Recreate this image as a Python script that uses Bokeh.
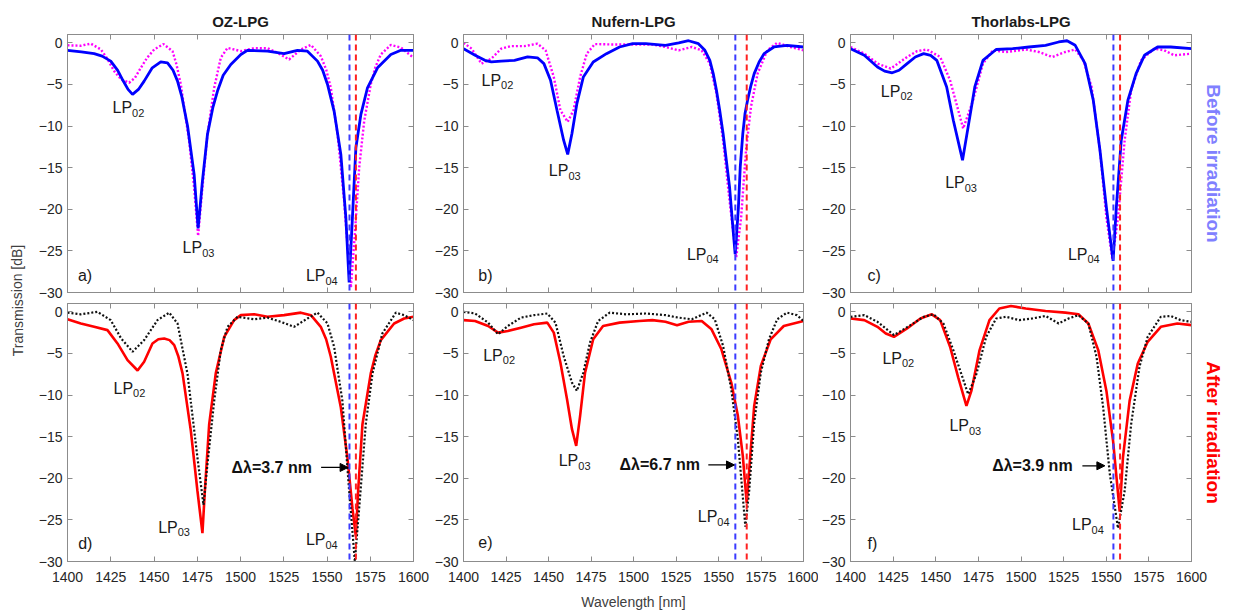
from bokeh.plotting import figure
from bokeh.layouts import row, column
from bokeh.models import LinearAxis, FixedTicker, Span, Arrow, NormalHead, Range1d
from bokeh.core.properties import value
from bokeh.embed import file_html
from bokeh.resources import INLINE

FONT = "Liberation Sans"
FRAME = "#8c8c8c"
TICKTXT = "#262626"

# ---------------- data ----------------
x_ticks = [1400, 1425, 1450, 1475, 1500, 1525, 1550, 1575, 1600]
y_ticks = [-30, -25, -20, -15, -10, -5, 0]
titles = ["OZ-LPG", "Nufern-LPG", "Thorlabs-LPG"]
panel_tags = [["a)", "b)", "c)"], ["d)", "e)", "f)"]]
shift_texts = ["\u0394\u03bb=3.7 nm", "\u0394\u03bb=6.7 nm", "\u0394\u03bb=3.9 nm"]
dip_before = [1563.0, 1559.9, 1554.2]   # blue dashed markers
dip_after = [1566.7, 1566.6, 1558.1]    # red dashed markers

# panel a : OZ-LPG before irradiation
a_solid_x = [1400, 1408.0, 1415.4, 1420.0, 1425.0, 1429.0, 1432.0, 1435.0, 1437.6, 1441.0, 1444.3, 1449.0,
             1453.9, 1457.8, 1461.0, 1463.6, 1466.0, 1469.4, 1473.2, 1475.5,
             1478.0, 1480.9, 1484.0, 1486.7, 1490.0, 1494.4, 1500.2, 1504.0, 1515.6, 1525.2, 1532.9, 1538.7,
             1544.5, 1547.5, 1550.3, 1554.1, 1558.0, 1560.9, 1562.8, 1564.7, 1566.7, 1569.6, 1573.4, 1579.2,
             1586.9, 1592.7, 1600]
a_solid_y = [-0.9, -1.1, -1.3, -1.6, -2.2, -3.3, -4.5, -5.6, -6.2, -5.6, -4.6, -3.0,
             -2.3, -2.4, -3.3, -4.6, -6.4, -10.0, -15.8, -22.3,
             -16.6, -11.0, -7.8, -5.8, -3.9, -2.6, -1.4, -0.9, -1.0, -1.3, -0.9, -1.0,
             -2.2, -3.3, -5.0, -8.2, -13.4, -21.0, -28.8, -21.0, -12.6, -8.6, -5.4, -3.0,
             -1.4, -0.9, -0.9]
a_dot_x = [1400, 1407.7, 1413.5, 1419.3, 1423.0, 1427.0, 1431.0, 1435.6, 1439.0, 1442.4, 1446.0, 1450.1,
           1455.5, 1460.7, 1463.0, 1465.5, 1470.3,
           1473.2, 1475.5, 1478.0, 1480.9, 1484.8, 1488.6, 1492.5, 1500.2, 1507.9, 1515.6, 1521.4, 1528.1,
           1534.9, 1540.7, 1546.4, 1549.5, 1552.2, 1556.1, 1559.9, 1562.8, 1563.8, 1566.1, 1568.6, 1571.5,
           1575.3, 1578.0, 1581.1, 1586.9, 1592.7, 1600]
a_dot_y = [-0.3, -0.35, -0.1, -0.8, -1.9, -3.4, -4.4, -4.8, -4.2, -3.0, -1.8, -0.8,
           -0.15, -1.0, -2.6, -5.0, -11.8,
           -17.4, -23.2, -17.4, -11.0, -5.4, -1.8, -0.6, -1.0, -0.64, -0.65, -1.2, -2.0,
           -0.8, -0.25, -1.6, -3.2, -5.4, -11.0, -19.0, -27.0, -29.4, -23.0, -15.0, -9.4,
           -5.0, -2.9, -1.4, -0.25, -0.56, -1.8]

# panel d : OZ-LPG after irradiation
d_solid_x = [1400, 1407.7, 1415.4, 1423.1, 1428.9, 1434.7, 1440.5, 1444.3, 1449.1, 1452.5, 1455.9, 1459.0,
             1461.7, 1464.0, 1466.5, 1471.3, 1475.1, 1478.0, 1479.4, 1481.9, 1485.7, 1490.6, 1496.3, 1500.2,
             1507.9, 1515.6, 1525.2, 1534.9, 1540.7, 1546.4, 1549.5, 1552.2, 1558.0, 1561.8, 1564.7, 1566.7,
             1568.0, 1570.5, 1575.3, 1578.0, 1581.1, 1588.8, 1594.6, 1600]
d_solid_y = [-0.9, -1.4, -1.8, -2.2, -3.8, -5.8, -7.05, -6.0, -3.8, -3.3, -3.2, -3.4,
             -4.0, -5.3, -7.4, -14.3, -21.5, -26.6, -21.5, -13.5, -7.4, -3.0, -1.0, -0.4,
             -0.3, -0.6, -0.4, -0.1, -0.4, -1.8, -3.3, -5.4, -11.5, -17.5, -23.6, -27.0,
             -21.5, -13.5, -7.4, -5.2, -3.4, -1.4, -0.8, -0.6]
d_dot_x = [1400, 1407.7, 1417.3, 1425.0, 1431.0, 1437.6, 1444.3, 1452.0, 1458.8, 1463.6, 1469.4, 1475.1,
           1478.6, 1480.9, 1484.8, 1488.6, 1492.5, 1498.3, 1507.9, 1515.6, 1523.3, 1531.0, 1538.7, 1544.5,
           1550.3, 1554.1, 1558.9, 1562.8, 1566.1, 1568.6, 1572.4, 1576.3, 1582.0, 1589.8, 1594.6, 1600]
d_dot_y = [-0.1, -0.3, 0.0, -1.0, -3.2, -4.8, -3.4, -1.0, -0.1, -1.4, -7.5, -17.5,
           -23.2, -18.3, -10.7, -4.6, -1.8, -0.6, -0.9, -0.7, -1.2, -1.8, -0.8, -0.1,
           -1.4, -4.2, -10.7, -21.5, -30.0, -23.6, -13.5, -7.4, -2.6, -0.1, -0.4, -1.0]

# panel b : Nufern-LPG before irradiation
b_solid_x = [1400, 1406.8, 1412.6, 1416.4, 1422.2, 1430.0, 1437.7, 1443.5, 1447.3, 1451.2, 1455.0, 1458.9,
             1461.3, 1463.8, 1466.7, 1470.5, 1476.3, 1484.1, 1491.8, 1499.5, 1507.2, 1518.8, 1526.6, 1532.4,
             1538.2, 1542.0, 1544.9, 1546.9, 1548.8, 1550.7, 1552.7, 1554.6, 1556.5, 1557.5, 1558.8, 1559.8,
             1560.4, 1561.7, 1562.8, 1564.3, 1565.6, 1567.1, 1569.1, 1571.0, 1573.9, 1576.8,
             1582.6, 1590.3, 1600]
b_solid_y = [-0.7, -1.5, -2.1, -2.3, -2.2, -2.1, -1.7, -1.8, -2.5, -4.5, -8.1, -11.7,
             -13.4, -10.9, -7.3, -4.1, -2.3, -1.3, -0.5, -0.1, -0.1, -0.3, 0.0, 0.25,
             -0.1, -0.9, -2.1, -3.7, -5.7, -8.1, -10.9, -14.1, -17.3, -19.8, -23.0, -25.4,
             -23.8, -19.8, -14.9, -10.9, -8.5, -6.9, -5.1, -3.7, -2.3, -1.3,
             -0.5, -0.3, -0.5]
b_dot_x = [1400, 1404.8, 1410.6, 1416.4, 1422.2, 1428.0, 1435.7, 1443.5, 1448.3, 1453.1, 1457.0, 1461.3,
           1464.7, 1468.6, 1472.5, 1477.3, 1487.9, 1499.5, 1511.1, 1518.8, 1526.6, 1534.3, 1540.1, 1544.9,
           1548.8, 1552.7, 1556.5, 1560.4, 1563.3, 1566.2, 1569.1, 1573.0, 1578.7, 1584.5, 1592.3, 1600]
b_dot_y = [0.0, -0.7, -2.5, -1.9, -0.7, -0.4, -0.4, -0.1, -0.9, -4.1, -8.1, -9.5,
           -8.1, -4.1, -1.3, -0.15, -0.2, -0.2, -0.2, -0.5, -0.9, -0.5, -0.9, -2.5,
           -6.1, -11.7, -19.0, -25.8, -21.0, -12.9, -7.7, -3.7, -0.9, 0.0, -0.5, -0.9]

# panel e : Nufern-LPG after irradiation
e_solid_x = [1400, 1406.8, 1414.5, 1420.3, 1426.1, 1433.8, 1441.5, 1449.3, 1453.1, 1457.0, 1460.9, 1463.8,
             1466.3, 1468.6, 1471.5, 1476.3, 1482.1, 1491.8, 1503.4, 1511.1, 1518.8, 1525.6, 1532.4, 1540.1,
             1545.9, 1551.7, 1557.5, 1561.4, 1564.3, 1566.6, 1568.7, 1571.0, 1574.9, 1580.7, 1588.4, 1600]
e_solid_y = [-1.0, -1.1, -1.7, -2.5, -2.3, -1.9, -1.5, -1.3, -2.5, -6.1, -10.5, -14.1,
             -16.1, -12.5, -7.3, -3.3, -1.7, -1.3, -1.1, -1.0, -1.2, -1.6, -1.2, -1.1,
             -2.1, -4.5, -8.5, -12.5, -17.3, -23.0, -17.3, -11.3, -6.5, -3.3, -1.7, -1.1]
e_dot_x = [1400, 1406.8, 1414.5, 1420.3, 1426.1, 1433.8, 1441.5, 1449.3, 1454.1, 1458.9, 1463.8, 1466.7,
           1470.5, 1474.4, 1479.2, 1486.0, 1495.7, 1507.2, 1518.8, 1526.6, 1534.3, 1543.0, 1547.8, 1552.7,
           1557.5, 1561.4, 1565.8, 1568.1, 1571.0, 1574.9, 1579.7, 1584.5, 1590.3, 1596.1, 1600]
e_dot_y = [0.0, -0.2, -1.3, -2.7, -1.7, -0.7, -0.4, -0.2, -1.3, -5.3, -8.5, -9.5,
           -7.3, -3.7, -1.1, -0.1, -0.3, -0.2, -0.4, -0.7, -0.9, -0.1, -0.9, -4.1,
           -9.3, -15.3, -25.8, -21.4, -13.3, -7.3, -3.3, -0.9, -0.1, -0.4, -1.1]

# panel c : Thorlabs-LPG before irradiation
c_solid_x = [1400, 1408.1, 1415.8, 1420.0, 1424.5, 1428.5, 1433.2, 1438.0, 1442.9, 1447.0, 1450.6, 1456.4,
             1460.3, 1465.7, 1469.0, 1472.9, 1477.7, 1485.4, 1495.1, 1504.7, 1514.4, 1522.1, 1527.0, 1531.8,
             1537.6, 1542.4, 1546.3, 1550.1, 1554.0, 1555.9, 1558.8, 1562.7, 1567.5, 1572.4, 1580.1, 1587.8,
             1600]
c_solid_y = [-0.7, -1.5, -2.9, -3.4, -3.6, -3.3, -2.5, -1.7, -1.3, -1.5, -2.1, -5.3,
             -9.3, -14.1, -10.1, -5.3, -2.1, -0.8, -0.7, -0.5, -0.3, 0.1, 0.25, -0.3,
             -2.5, -6.9, -12.9, -19.8, -26.2, -19.8, -11.7, -6.9, -3.7, -1.5, -0.5, -0.5,
             -0.7]
c_dot_x = [1400, 1408.1, 1416.0, 1423.6, 1433.2, 1439.0, 1444.8, 1452.6, 1458.4, 1466.1, 1471.9, 1477.7,
           1483.5, 1491.2, 1502.8, 1510.5, 1518.3, 1526.0, 1531.8, 1536.6, 1541.4, 1546.3, 1550.1, 1553.6,
           1556.9, 1560.8, 1564.6, 1570.4, 1578.2, 1584.0, 1589.8, 1600]
c_dot_y = [-0.5, -1.3, -2.5, -3.1, -1.7, -1.0, -0.8, -1.7, -4.5, -10.3, -6.9, -2.5,
           -0.9, -1.1, -0.8, -1.1, -1.7, -1.1, -0.8, -2.1, -5.3, -12.9, -21.0, -26.0,
           -21.0, -11.7, -5.7, -2.1, -0.7, -0.9, -1.5, -1.3]

# panel f : Thorlabs-LPG after irradiation
f_solid_x = [1400, 1408.1, 1415.8, 1420.7, 1425.5, 1433.2, 1441.0, 1447.7, 1452.6, 1458.4, 1463.2, 1468.0,
             1470.9, 1475.7, 1481.5, 1487.3, 1494.1, 1502.8, 1514.4, 1526.0, 1533.7, 1539.5, 1545.3, 1550.1,
             1554.0, 1557.9, 1559.8, 1563.7, 1568.5, 1574.3, 1582.0, 1591.7, 1600]
f_solid_y = [-0.8, -1.0, -1.8, -2.6, -3.0, -2.0, -0.8, -0.3, -1.0, -4.2, -7.9, -11.3,
             -9.5, -4.6, -1.0, 0.4, 0.7, 0.4, 0.1, -0.1, -0.3, -1.4, -4.6, -9.5,
             -15.5, -24.0, -17.5, -10.7, -6.2, -3.6, -1.8, -1.4, -1.6]
f_dot_x = [1400, 1408.1, 1415.8, 1425.5, 1435.2, 1442.9, 1448.7, 1454.5, 1460.3, 1469.0, 1473.8, 1479.6,
           1485.4, 1491.2, 1498.9, 1506.7, 1514.4, 1522.1, 1527.9, 1533.7, 1539.5, 1544.3, 1548.2, 1552.1,
           1556.9, 1560.8, 1564.6, 1569.5, 1574.3, 1582.0, 1587.8, 1593.6, 1600]
f_dot_y = [-0.6, -0.4, -1.2, -2.8, -1.6, -0.6, -0.3, -1.4, -4.6, -9.9, -7.5, -3.0,
           -0.8, -0.6, -1.0, -0.8, -0.5, -1.4, -0.8, -0.4, -1.4, -5.4, -11.5, -19.5,
           -26.0, -21.5, -13.5, -6.6, -3.0, -0.6, -0.5, -1.0, -1.2]

# ---------------- annotation placement ----------------
lp_names = ["02", "03", "04"]
lp_pos = {
    (0, 0): [(1426.0, -7.8), (1466.5, -24.6), (1537.8, -28.0)],
    (0, 1): [(1410.6, -4.5), (1450.2, -15.4), (1531.4, -25.4)],
    (0, 2): [(1417.8, -5.8), (1455.5, -16.8), (1527.5, -25.4)],
    (1, 0): [(1426.6, -9.2), (1452.4, -25.9), (1537.8, -27.4)],
    (1, 1): [(1411.6, -5.2), (1456.0, -17.9), (1537.8, -24.6)],
    (1, 2): [(1418.7, -5.6), (1458.0, -13.7), (1529.9, -25.6)],
}
tag_pos = [[(1406.0, -27.9), (1408.7, -27.9), (1410.0, -27.9)],
           [(1406.2, -27.8), (1408.7, -27.7), (1410.0, -27.8)]]
shift_pos = [(1494.8, -18.7, 1546.6, 1562.2),
             (1491.8, -18.4, 1544.0, 1559.4),
             (1483.1, -18.5, 1536.0, 1549.2)]

curves = {
    (0, 0): (a_solid_x, a_solid_y, a_dot_x, a_dot_y),
    (0, 1): (b_solid_x, b_solid_y, b_dot_x, b_dot_y),
    (0, 2): (c_solid_x, c_solid_y, c_dot_x, c_dot_y),
    (1, 0): (d_solid_x, d_solid_y, d_dot_x, d_dot_y),
    (1, 1): (e_solid_x, e_solid_y, e_dot_x, e_dot_y),
    (1, 2): (f_solid_x, f_solid_y, f_dot_x, f_dot_y),
}

# layout (page has no margin: origin at top-left of the window)
FRAME_W = [346, 345, 345]
left_b = [37, 27, 28]
right_b = [18, 15, 41]
FRAME_H = 258
top_b = [34, 1]
bot_b = [10, 53]
LEFT_STRIP = 30


def style_axis(ax, labels_on):
    ax.axis_line_color = FRAME
    ax.major_tick_line_color = FRAME
    ax.minor_tick_line_color = None
    ax.major_tick_in = 5
    ax.major_tick_out = 0
    ax.major_label_text_font = FONT
    ax.major_label_text_font_size = "14px"
    if labels_on:
        ax.major_label_text_color = TICKTXT
    else:
        ax.major_label_text_color = None
        ax.major_label_standoff = 0


def make_panel(r, c):
    p = figure(width=left_b[c] + FRAME_W[c] + right_b[c], height=top_b[r] + FRAME_H + bot_b[r],
               output_backend="svg", toolbar_location=None,
               x_range=Range1d(1400, 1600), y_range=Range1d(-30, 1),
               min_border_left=left_b[c], min_border_right=right_b[c],
               min_border_top=top_b[r], min_border_bottom=bot_b[r],
               x_axis_location=None, y_axis_location=None)
    p.background_fill_color = "white"
    p.border_fill_color = "white"
    p.outline_line_color = FRAME
    p.xgrid.visible = False
    p.ygrid.visible = False

    bx = LinearAxis(ticker=FixedTicker(ticks=x_ticks))
    style_axis(bx, r == 1)
    if r == 1:
        bx.major_label_standoff = 10
    if r == 1 and c == 1:
        bx.axis_label = "Wavelength [nm]"
        bx.axis_label_text_font = FONT
        bx.axis_label_text_font_style = "normal"
        bx.axis_label_text_font_size = "14px"
        bx.axis_label_text_color = "#404040"
        bx.axis_label_standoff = 9
    p.add_layout(bx, "below")

    ly = LinearAxis(ticker=FixedTicker(ticks=y_ticks))
    style_axis(ly, True)
    ly.major_label_standoff = 5
    p.add_layout(ly, "left")

    tx = LinearAxis(ticker=FixedTicker(ticks=x_ticks))
    style_axis(tx, False)
    p.add_layout(tx, "above")

    ry = LinearAxis(ticker=FixedTicker(ticks=y_ticks))
    style_axis(ry, False)
    if c == 2:
        ry.axis_label = "Before irradiation" if r == 0 else "After irradiation"
        ry.axis_label_text_color = "#8080ff" if r == 0 else "#ff0000"
        ry.axis_label_text_font = FONT
        ry.axis_label_text_font_style = "bold"
        ry.axis_label_text_font_size = "19px"
        ry.axis_label_standoff = 11
    p.add_layout(ry, "right")

    if r == 0:
        p.title.text = titles[c]
        p.title.align = "center"
        p.title.text_font = FONT
        p.title.text_font_style = "bold"
        p.title.text_font_size = "15px"
        p.title.text_color = "#1a1a1a"
        p.title.standoff = 9

    sx, sy, dx, dy = curves[(r, c)]
    if r == 0:
        p.line(dx, dy, line_color="#ff00ff", line_width=2.4, line_dash="2 2")
        p.line(sx, sy, line_color="#0000ff", line_width=2.8)
    else:
        p.line(sx, sy, line_color="#ff0000", line_width=2.6)
        p.line(dx, dy, line_color="#111111", line_width=2.2, line_dash="2 2")

    p.add_layout(Span(location=dip_before[c], dimension="height", line_color="#3b3bff",
                      line_width=2, line_dash="6 4"))
    p.add_layout(Span(location=dip_after[c], dimension="height", line_color="#ff2020",
                      line_width=2, line_dash="6 4"))

    pos = lp_pos[(r, c)]
    p.text(x=[q[0] for q in pos], y=[q[1] for q in pos], text=["LP"] * 3,
           text_font=value(FONT), text_font_size="16px", text_color="#1a1a1a",
           text_align="left", text_baseline="middle")
    p.text(x=[q[0] for q in pos], y=[q[1] for q in pos], text=lp_names,
           text_font=value(FONT), text_font_size="11px", text_color="#1a1a1a",
           text_align="left", text_baseline="middle", x_offset=19.6, y_offset=5)

    tp = tag_pos[r][c]
    p.text(x=[tp[0]], y=[tp[1]], text=[panel_tags[r][c]], text_font=value(FONT),
           text_font_size="16px", text_color="#1a1a1a", text_align="left", text_baseline="middle")

    if r == 1:
        sp = shift_pos[c]
        p.text(x=[sp[0]], y=[sp[1]], text=[shift_texts[c]], text_font=value(FONT),
               text_font_size="16px", text_font_style="bold", text_color="#111111",
               text_align="left", text_baseline="middle")
        p.add_layout(Arrow(end=NormalHead(size=8, fill_color="black", line_color="black"),
                           x_start=sp[2], y_start=sp[1], x_end=sp[3], y_end=sp[1],
                           line_color="black", line_width=1.3))
    return p


panels = [[make_panel(r, c) for c in range(3)] for r in range(2)]

total_h = top_b[0] + FRAME_H + bot_b[0] + top_b[1] + FRAME_H + bot_b[1]

# left strip holding the shared y-axis title
lab = figure(width=LEFT_STRIP, height=total_h, output_backend="svg", toolbar_location=None,
             x_range=Range1d(0, LEFT_STRIP), y_range=Range1d(0, total_h),
             x_axis_type=None, y_axis_type=None,
             min_border_left=0, min_border_right=0, min_border_top=0, min_border_bottom=0)
lab.outline_line_color = None
lab.xgrid.visible = False
lab.ygrid.visible = False
lab.text(x=[17], y=[total_h - 300], text=["Transmission [dB]"], angle=1.5708, text_font=value(FONT),
         text_font_size="14px", text_color="#404040", text_align="center", text_baseline="middle")

layout = row(lab, column(panels[0][0], panels[1][0]), column(panels[0][1], panels[1][1]),
             column(panels[0][2], panels[1][2]))

open("out.html", "w").write(file_html(layout, INLINE))
